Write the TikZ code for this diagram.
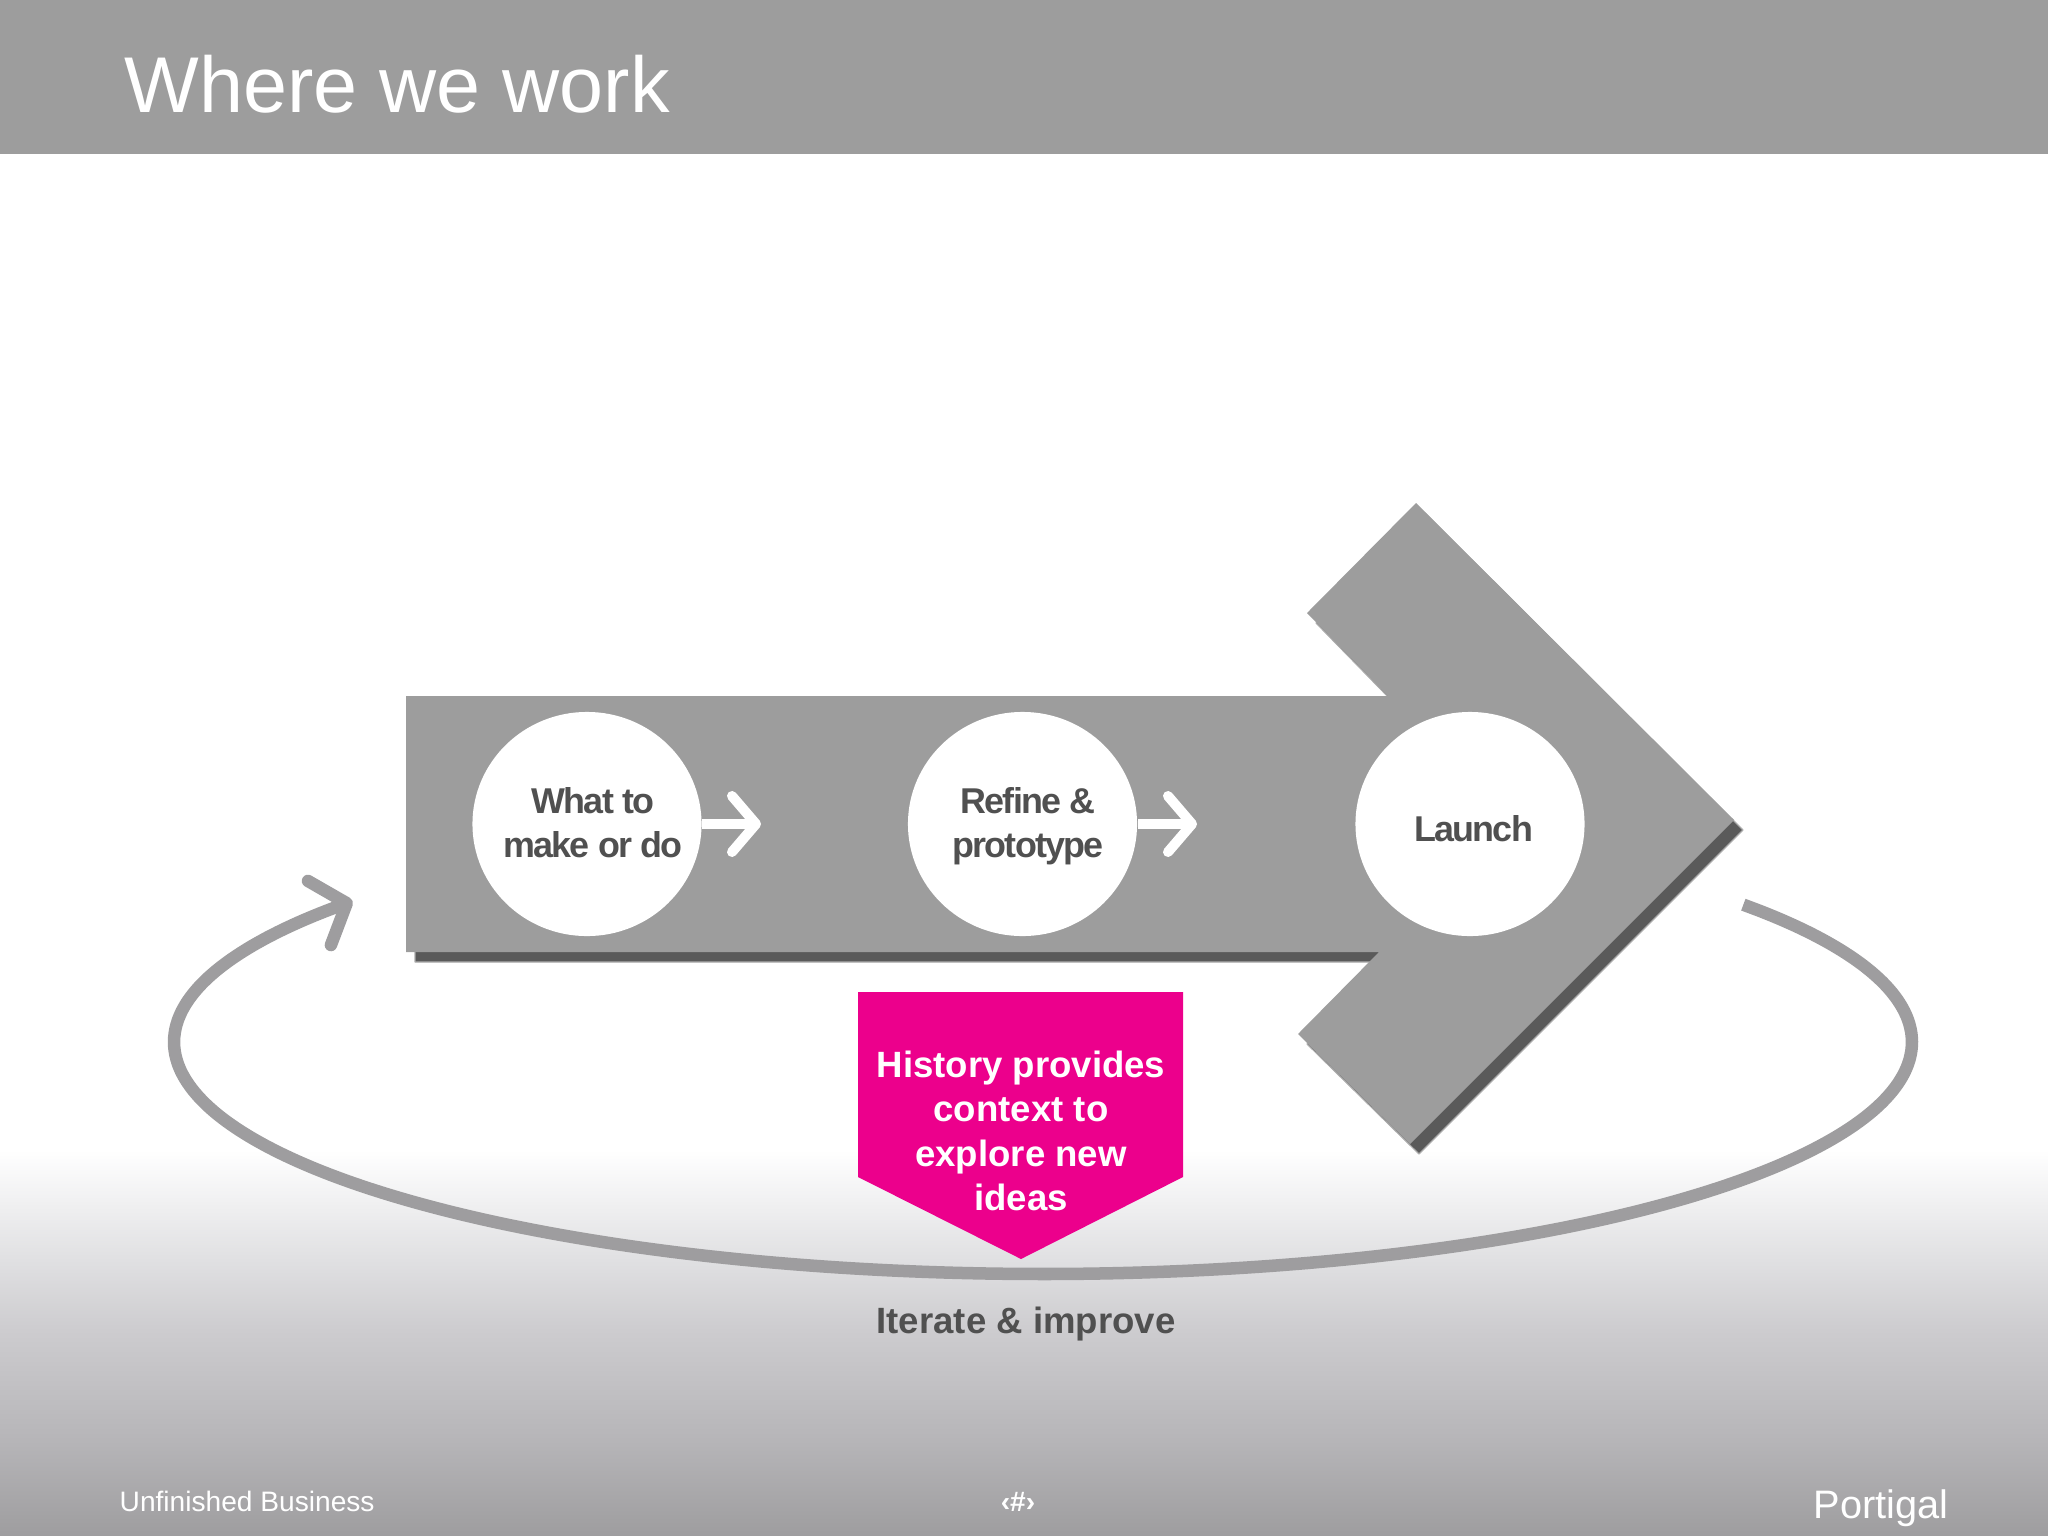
\documentclass[tikz,border=0pt]{standalone}
\usepackage{fontspec}
\setmainfont{Liberation Sans}
\newfontfamily\tightfont[LetterSpace=-4.8]{Liberation Sans}
\usetikzlibrary{arrows.meta,shapes.geometric,shadows}

\definecolor{bargray}{HTML}{9D9D9D}
\definecolor{shadowgray}{HTML}{5A5A5A}
\definecolor{loopgray}{HTML}{9E9D9F}
\definecolor{textgray}{HTML}{505050}
\definecolor{hotpink}{HTML}{EC008C}
\definecolor{fadeone}{HTML}{B6B5B8}
\definecolor{fadetwo}{HTML}{CDCCCF}
\definecolor{fadethree}{HTML}{E0E0E2}

% stops lie between 25bp and 75bp, the height of the filled box
\pgfdeclareverticalshading{footfade}{100bp}{
	color(0bp)=(loopgray); color(25bp)=(loopgray);
	color(37.4bp)=(fadeone); color(51.7bp)=(fadetwo);
	color(60.75bp)=(fadethree); color(75bp)=(white); color(100bp)=(white)}

\tikzset{
	stepcircle/.style={shape=ellipse,fill=white,inner sep=0pt,minimum width=2.29cm,minimum height=2.24cm},
	steptext/.style={align=center,text=textgray,font=\tightfont\bfseries\fontsize{10.2}{12.6}\selectfont},
	whitearrow/.style={white,line width=0.1cm,-{Straight Barb[length=0.24cm,width=0.56cm,round]}},
	looparrow/.style={loopgray,line width=0.125cm,-{Straight Barb[length=0.29cm,width=0.68cm,round]}}
}

\begin{document}
\begin{tikzpicture}[x=0.01cm,y=-0.01cm]
	\useasboundingbox (0,0) rectangle (2048,1536);
	\shade[shading=footfade] (0,1150) rectangle (2048,1536);
	\fill[bargray] (0,0) rectangle (2048,154);
	\node[anchor=base west,inner sep=0pt,white,font=\fontsize{22.5}{27}\selectfont] (title) at (124,112) {Where we work};

	% main arrow
	\fill[bargray,drop shadow={shadow xshift=0.09cm,shadow yshift=-0.1cm,opacity=1,fill=shadowgray,draw=shadowgray!50,line width=0.012cm,line join=round}]
	(406,696) -- (1388,696) -- (1307,613) -- (1416,503) -- (1734,820) -- (1410,1144) -- (1298,1034) -- (1379,952) -- (406,952) -- cycle;

	\node[stepcircle] (make) at (587,824) {};
	\node[stepcircle] (refine) at (1022.5,824) {};
	\node[stepcircle] (launch) at (1470,824) {};
	\node[steptext] (maketext) at (593,823) {What to\\make or do};
	\node[steptext] (refinetext) at (1028,826) {Refine \&\\prototype};
	\node[steptext] (launchtext) at (1473.5,829) {Launch};

	\coordinate (makeend) at (761,824);
	\coordinate (refineend) at (1197,824);
	\draw[whitearrow] (make.east) -- (makeend);
	\draw[whitearrow] (refine.east) -- (refineend);

	% loop under the arrow
	\draw[looparrow] plot[smooth,domain=-36.3:217.4,samples=120,variable=\t]
	({1043+869*cos(\t)},{1042+232*sin(\t)});

	\fill[hotpink] (858,992) -- (1183,992) -- (1183,1177) -- (1021,1259) -- (858,1177) -- cycle;
	\node[align=center,white,font=\bfseries\fontsize{10.4}{12.6}\selectfont] (history) at (1021,1131)
	{History provides\\context to\\explore new\\ideas};
	\node[anchor=base,inner sep=0pt,text=textgray,font=\bfseries\fontsize{10.4}{12.6}\selectfont] (iterate) at (1026,1333) {Iterate \& improve};

	\node[anchor=base west,inner sep=0pt,white,font=\fontsize{8}{10}\selectfont] (footer) at (119,1511) {Unfinished Business};
	\node[anchor=base,inner sep=0pt,white,font=\bfseries\fontsize{8}{10}\selectfont] (pagenum) at (1018,1511) {‹\#›};
	\node[anchor=base east,inner sep=0pt,white,font=\fontsize{11.3}{14}\selectfont] (brand) at (1949,1518) {Portigal};
\end{tikzpicture}
\end{document}
